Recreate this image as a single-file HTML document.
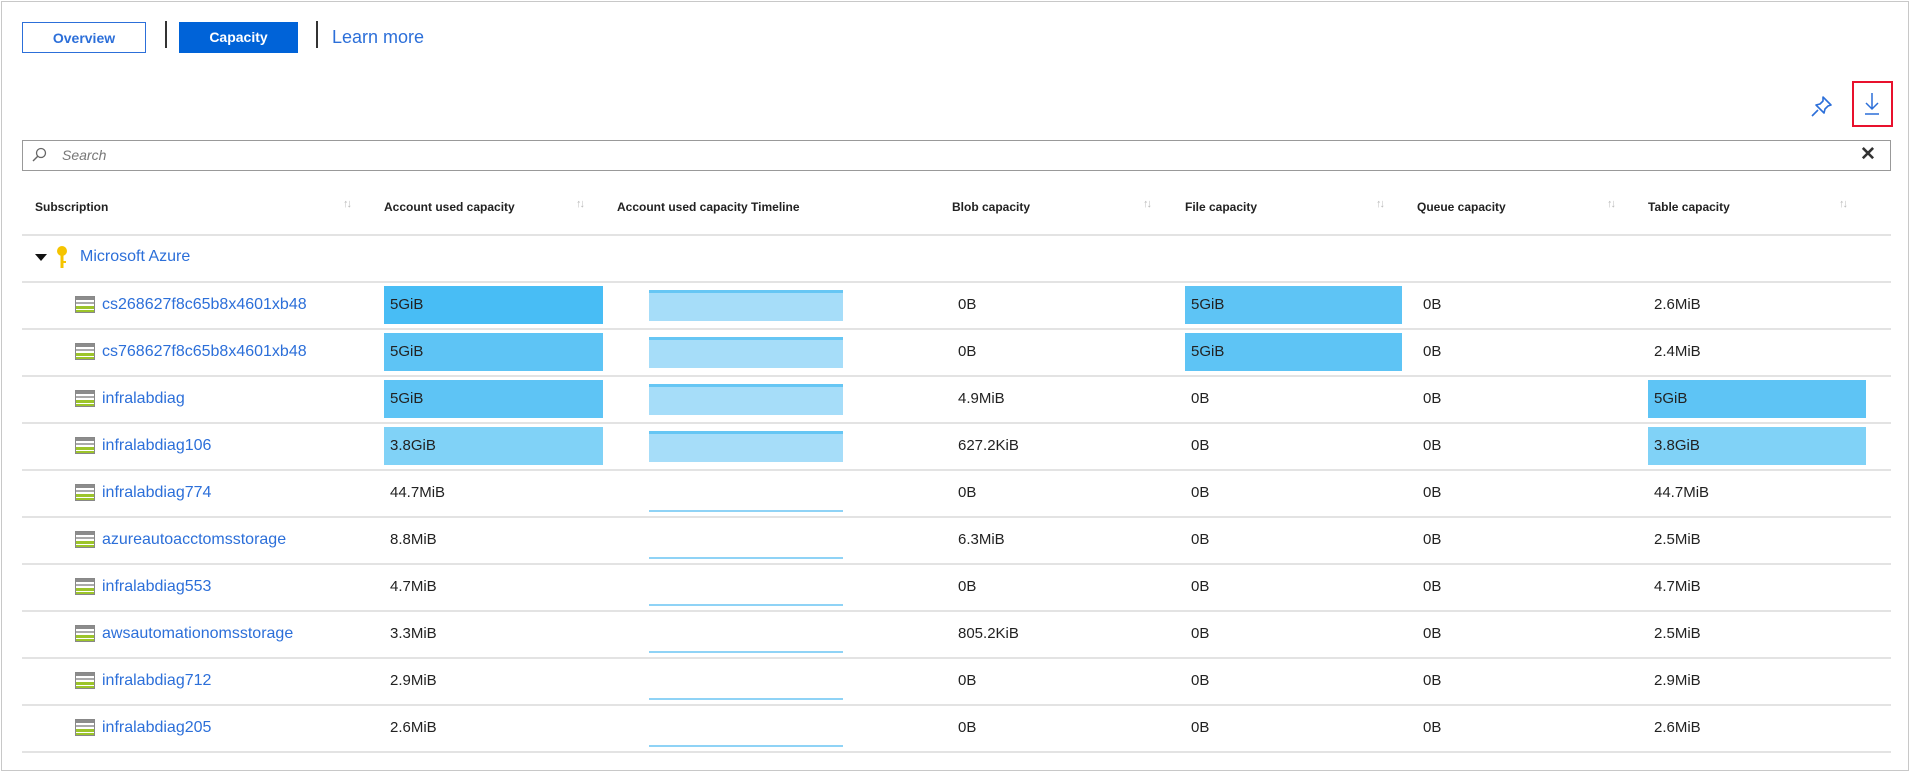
<!DOCTYPE html>
<html><head><meta charset="utf-8"><style>
body{margin:0;width:1911px;height:772px;background:#fff;font-family:"Liberation Sans",sans-serif;position:relative;overflow:hidden}
.a{position:absolute}
.frame{left:1px;top:1px;width:1906px;height:768px;border:1px solid #c8c8c8}
.btn{top:22px;height:31px;line-height:31px;text-align:center;font-size:14px;font-weight:bold;box-sizing:border-box}
.sep{width:2px;background:#333;top:21px;height:27px}
.hdr{top:200px;font-size:12px;font-weight:bold;color:#222}
.sort{top:198px;font-size:11px;color:#bbb;letter-spacing:-2px}
.line{left:22px;width:1869px;height:2px;background:#e3e3e3}
.name{font-size:16px;color:#2c6fd9}
.val{font-size:15px;color:#222}
.bar{height:38px;line-height:38px;font-size:15px;color:#222;padding-left:6px;box-sizing:border-box}
.tl{left:649px;width:194px;height:31px;background:#a6ddf9;border-top:3px solid #66c6f4;box-sizing:border-box}
.tls{left:649px;width:194px;height:2px;background:#8fd3f6}
.ic{left:75px;width:20px;height:17px;background:linear-gradient(#8c8c8c 0 3px,#fff 3px 5px,#aaa 5px 7px,#fff 7px 9px,#9cc42a 9px 12px,#fff 12px 13px,#9cc42a 13px 17px);border:1px solid #888;box-sizing:border-box}
</style></head><body>
<div class="a frame"></div>
<div class="a btn" style="left:22px;width:124px;border:1px solid #2c6fd9;color:#2c6fd9">Overview</div>
<div class="a sep" style="left:165px"></div>
<div class="a btn" style="left:179px;width:119px;background:#0063d8;color:#fff">Capacity</div>
<div class="a sep" style="left:316px"></div>
<div class="a" style="left:332px;top:27px;font-size:18px;color:#2c6fd9">Learn more</div>
<svg class="a" style="left:1810px;top:94px" width="24" height="24" viewBox="0 0 24 24"><path d="M13 3l8 8-3 1-3 3 -1 4-8-8 4-1 3-3z M8 16l-6 6" fill="none" stroke="#2c6fd9" stroke-width="1.6" stroke-linejoin="round"/></svg>
<div class="a" style="left:1852px;top:81px;width:41px;height:46px;border:2px solid #e8112d;box-sizing:border-box"></div>
<svg class="a" style="left:1862px;top:92px" width="20" height="24"><path d="M10 1v16M4 11l6 6 6-6M3 22h14" fill="none" stroke="#2c6fd9" stroke-width="1.5"/></svg>
<div class="a" style="left:22px;top:140px;width:1869px;height:31px;border:1px solid #999;box-sizing:border-box"></div>
<svg class="a" style="left:31px;top:147px" width="16" height="16"><circle cx="10" cy="6" r="4.5" fill="none" stroke="#666" stroke-width="1.3"/><path d="M7 9L2 14" stroke="#666" stroke-width="1.4"/></svg>
<div class="a" style="left:62px;top:147px;font-size:14px;font-style:italic;color:#777">Search</div>
<div class="a" style="left:1860px;top:143px;font-size:19px;font-weight:bold;color:#333">✕</div>
<div class="a hdr" style="left:35px">Subscription</div><div class="a sort" style="left:343px">↑↓</div>
<div class="a hdr" style="left:384px">Account used capacity</div><div class="a sort" style="left:576px">↑↓</div>
<div class="a hdr" style="left:617px">Account used capacity Timeline</div>
<div class="a hdr" style="left:952px">Blob capacity</div><div class="a sort" style="left:1143px">↑↓</div>
<div class="a hdr" style="left:1185px">File capacity</div><div class="a sort" style="left:1376px">↑↓</div>
<div class="a hdr" style="left:1417px">Queue capacity</div><div class="a sort" style="left:1607px">↑↓</div>
<div class="a hdr" style="left:1648px">Table capacity</div><div class="a sort" style="left:1839px">↑↓</div>
<div class="a line" style="top:234px"></div>
<div class="a" style="left:35px;top:254px;width:0;height:0;border-left:6px solid transparent;border-right:6px solid transparent;border-top:7px solid #111"></div>
<svg class="a" style="left:56px;top:245px" width="12" height="24"><circle cx="6" cy="6" r="5" fill="#f5c400"/><rect x="4.5" y="9" width="3" height="14" fill="#f5c400"/><rect x="7" y="16" width="3" height="2" fill="#f5c400"/></svg>
<div class="a name" style="left:80px;top:248px">Microsoft Azure</div>
<div class="a line" style="top:281px"></div>
<div id="rows"></div>
<script>
var R=[["cs268627f8c65b8x4601xb48","5GiB","#48bdf5",1,"0B","5GiB","0B","2.6MiB",0],
["cs768627f8c65b8x4601xb48","5GiB","#5ec4f5",1,"0B","5GiB","0B","2.4MiB",0],
["infralabdiag","5GiB","#5ec4f5",1,"4.9MiB","0B","0B","5GiB",1],
["infralabdiag106","3.8GiB","#80d2f7",1,"627.2KiB","0B","0B","3.8GiB",1],
["infralabdiag774","44.7MiB","",0,"0B","0B","0B","44.7MiB",0],
["azureautoacctomsstorage","8.8MiB","",0,"6.3MiB","0B","0B","2.5MiB",0],
["infralabdiag553","4.7MiB","",0,"0B","0B","0B","4.7MiB",0],
["awsautomationomsstorage","3.3MiB","",0,"805.2KiB","0B","0B","2.5MiB",0],
["infralabdiag712","2.9MiB","",0,"0B","0B","0B","2.9MiB",0],
["infralabdiag205","2.6MiB","",0,"0B","0B","0B","2.6MiB",0]];
var h="";
R.forEach(function(r,i){var t=283+i*47,c=t+22;
h+='<div class="a ic" style="top:'+(c-9)+'px"></div><div class="a name" style="left:102px;top:'+(c-9)+'px">'+r[0]+'</div>';
if(r[2])h+='<div class="a bar" style="left:384px;width:219px;top:'+(t+3)+'px;background:'+r[2]+'">'+r[1]+'</div>';
else h+='<div class="a val" style="left:390px;top:'+(c-9)+'px">'+r[1]+'</div>';
if(r[3])h+='<div class="a tl" style="top:'+(t+7)+'px"></div>';else h+='<div class="a tls" style="top:'+(t+39)+'px"></div>';
h+='<div class="a val" style="left:958px;top:'+(c-9)+'px">'+r[4]+'</div>';
if(r[5]!="0B")h+='<div class="a bar" style="left:1185px;width:217px;top:'+(t+3)+'px;background:#5ec4f5">'+r[5]+'</div>';
else h+='<div class="a val" style="left:1191px;top:'+(c-9)+'px">0B</div>';
h+='<div class="a val" style="left:1423px;top:'+(c-9)+'px">'+r[6]+'</div>';
if(r[8])h+='<div class="a bar" style="left:1648px;width:218px;top:'+(t+3)+'px;background:'+(i==2?"#5ec4f5":"#80d2f7")+'">'+r[7]+'</div>';
else h+='<div class="a val" style="left:1654px;top:'+(c-9)+'px">'+r[7]+'</div>';
h+='<div class="a line" style="top:'+(t+45)+'px"></div>';});
document.getElementById("rows").innerHTML=h;
</script>
</body></html>
